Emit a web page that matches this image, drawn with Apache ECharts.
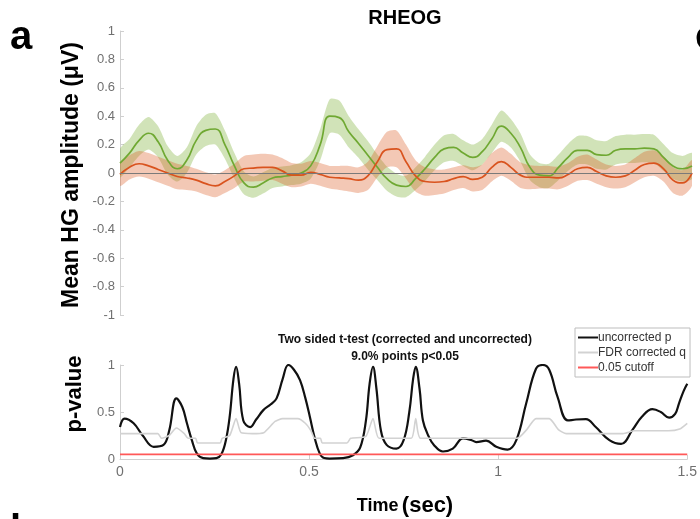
<!DOCTYPE html>
<html>
<head>
<meta charset="utf-8">
<script src="https://cdn.jsdelivr.net/npm/echarts@6.0.0/dist/echarts.min.js"></script>
<style>
  html, body { margin: 0; padding: 0; background: #fff; }
  #chart { width: 700px; height: 519px; }
</style>
</head>
<body>
<div id="chart"></div>
<script>
// ---- top panel: mean HG amplitude, sampled every 25 ms ----
var timeTop = [0, 0.025, 0.05, 0.075, 0.1, 0.125, 0.15, 0.175, 0.2, 0.225,
  0.25, 0.275, 0.3, 0.325, 0.35, 0.375, 0.4, 0.425, 0.45, 0.475,
  0.5, 0.525, 0.55, 0.575, 0.6, 0.625, 0.65, 0.675, 0.7, 0.725,
  0.75, 0.775, 0.8, 0.825, 0.85, 0.875, 0.9, 0.925, 0.95, 0.975,
  1.0, 1.025, 1.05, 1.075, 1.1, 1.125, 1.15, 1.175, 1.2, 1.225,
  1.25, 1.275, 1.3, 1.325, 1.35, 1.375, 1.4, 1.425, 1.45, 1.475, 1.5];

var greenMean = [0.07, 0.14, 0.23, 0.28, 0.22, 0.09, 0.03, 0.09, 0.23, 0.30,
  0.31, 0.20, 0.05, -0.07, -0.10, -0.07, -0.035, -0.025, -0.015, 0.0,
  0.05, 0.20, 0.40, 0.39, 0.29, 0.21, 0.125, 0.04, -0.04, -0.085,
  -0.095, -0.04, 0.03, 0.11, 0.17, 0.18, 0.14, 0.11, 0.15, 0.24,
  0.33, 0.28, 0.18, 0.04, -0.015, -0.02, 0.04, 0.11, 0.16, 0.16,
  0.13, 0.125, 0.16, 0.17, 0.17, 0.175, 0.17, 0.11, 0.05, 0.03, 0.05];

var greenHalf = [0.10, 0.10, 0.11, 0.115, 0.11, 0.10, 0.09, 0.09, 0.10, 0.11,
  0.11, 0.10, 0.09, 0.08, 0.075, 0.075, 0.07, 0.07, 0.07, 0.075,
  0.09, 0.11, 0.12, 0.12, 0.11, 0.10, 0.10, 0.09, 0.085, 0.08,
  0.075, 0.08, 0.085, 0.09, 0.095, 0.095, 0.09, 0.09, 0.09, 0.10,
  0.11, 0.10, 0.10, 0.09, 0.085, 0.085, 0.09, 0.095, 0.10, 0.10,
  0.10, 0.10, 0.10, 0.10, 0.10, 0.10, 0.10, 0.095, 0.09, 0.09, 0.09];

var orangeMean = [-0.01, 0.04, 0.065, 0.05, 0.025, 0.0, -0.025, -0.035, -0.05, -0.075,
  -0.09, -0.06, -0.02, 0.03, 0.035, 0.04, 0.04, 0.015, -0.015, -0.015,
  0.005, -0.01, -0.03, -0.035, -0.04, -0.05, -0.02, 0.08, 0.165, 0.17,
  0.08, -0.02, -0.06, -0.065, -0.06, -0.04, -0.025, -0.045, -0.03, 0.04,
  0.08, 0.04, -0.015, -0.03, -0.03, -0.03, -0.035, -0.01, 0.03, 0.04,
  0.01, -0.02, -0.03, -0.02, 0.02, 0.06, 0.07, 0.03, -0.05, -0.07, 0.0];

var orangeHalf = [0.08, 0.085, 0.09, 0.09, 0.09, 0.09, 0.09, 0.085, 0.08, 0.08,
  0.08, 0.08, 0.085, 0.09, 0.095, 0.095, 0.09, 0.09, 0.085, 0.08,
  0.08, 0.08, 0.08, 0.085, 0.09, 0.09, 0.10, 0.11, 0.125, 0.13,
  0.12, 0.11, 0.10, 0.09, 0.085, 0.08, 0.08, 0.085, 0.09, 0.10,
  0.10, 0.095, 0.09, 0.085, 0.08, 0.08, 0.08, 0.08, 0.085, 0.09,
  0.085, 0.08, 0.08, 0.08, 0.085, 0.09, 0.09, 0.09, 0.09, 0.09, 0.09];

// ---- bottom panel: p values ----
var timeP = [0, 0.012, 0.036, 0.06, 0.089, 0.115, 0.13, 0.149, 0.165, 0.177,
  0.19, 0.203, 0.22, 0.238, 0.255, 0.268, 0.28, 0.29, 0.3, 0.307,
  0.315, 0.326, 0.344, 0.36, 0.379, 0.398, 0.414, 0.43, 0.445, 0.46,
  0.476, 0.49, 0.502, 0.515, 0.528, 0.54, 0.554, 0.59, 0.616, 0.635,
  0.65, 0.66, 0.669, 0.678, 0.69, 0.705, 0.731, 0.75, 0.765, 0.775,
  0.782, 0.792, 0.801, 0.815, 0.83, 0.854, 0.88, 0.907, 0.93, 0.942,
  0.968, 0.995, 1.025, 1.048, 1.074, 1.1, 1.118, 1.135, 1.157, 1.184,
  1.206, 1.232, 1.258, 1.294, 1.325, 1.355, 1.38, 1.408, 1.43, 1.452,
  1.468, 1.478, 1.49, 1.5];
var pUncorrected = [0.34, 0.43, 0.38, 0.25, 0.13, 0.15, 0.30, 0.645, 0.55, 0.38,
  0.20, 0.06, 0.01, 0.005, 0.01, 0.05, 0.20, 0.45, 0.85, 0.98,
  0.80, 0.41, 0.34, 0.42, 0.52, 0.58, 0.645, 0.85, 1.0, 0.95,
  0.84, 0.65, 0.45, 0.22, 0.06, 0.01, 0.005, 0.01, 0.04, 0.12,
  0.40, 0.80, 0.98, 0.75, 0.30, 0.15, 0.11, 0.20, 0.50, 0.85,
  0.98, 0.75, 0.41, 0.25, 0.15, 0.08, 0.11, 0.22, 0.20, 0.18,
  0.195, 0.13, 0.10, 0.20, 0.59, 0.96, 1.0, 0.95, 0.66, 0.41,
  0.42, 0.425, 0.34, 0.20, 0.16, 0.31, 0.45, 0.53, 0.50, 0.44,
  0.48, 0.59, 0.72, 0.80];

var timeQ = [0, 0.1, 0.11, 0.13, 0.149, 0.17, 0.18, 0.2, 0.205, 0.265,
  0.27, 0.29, 0.307, 0.32, 0.35, 0.38, 0.41, 0.43, 0.47, 0.49,
  0.505, 0.515, 0.53, 0.535, 0.6, 0.61, 0.65, 0.669, 0.685, 0.77,
  0.782, 0.795, 1.05, 1.075, 1.1, 1.135, 1.16, 1.18, 1.33, 1.36,
  1.45, 1.48, 1.5];
var qFdr = [0.27, 0.27, 0.22, 0.25, 0.33, 0.27, 0.22, 0.22, 0.17, 0.17,
  0.22, 0.25, 0.43, 0.28, 0.27, 0.28, 0.40, 0.43, 0.43, 0.38,
  0.30, 0.22, 0.22, 0.17, 0.17, 0.22, 0.24, 0.43, 0.22, 0.22,
  0.43, 0.22, 0.22, 0.31, 0.43, 0.43, 0.31, 0.27, 0.27, 0.30,
  0.30, 0.32, 0.38];

var timeCut = [0, 1.5];
var cutoff = [0.05, 0.05];

var topTicks = { min: -1, max: 1, interval: 0.2 };
var pTicks = { min: 0, max: 1, interval: 0.5 };
var timeTicks = { min: 0, max: 1.5, interval: 0.5 };

function pairs(ts, vs) {
  var out = [];
  for (var i = 0; i < ts.length; i++) out.push([ts[i], vs[i]]);
  return out;
}

// shaded band (mean +/- half width) drawn as one polygon through the axis scales
function bandSeries(mean, half, fill) {
  return {
    type: 'custom', xAxisIndex: 0, yAxisIndex: 0, clip: true, silent: true,
    data: pairs(timeTop, mean),
    renderItem: function (params, api) {
      if (params.dataIndex !== 0) return null;
      var pts = [];
      for (var i = 0; i < timeTop.length; i++) pts.push(api.coord([timeTop[i], mean[i] + half[i]]));
      for (var j = timeTop.length - 1; j >= 0; j--) pts.push(api.coord([timeTop[j], mean[j] - half[j]]));
      return { type: 'polygon', shape: { points: pts, smooth: 0.25 }, style: { fill: fill } };
    }
  };
}

var font = '"Liberation Sans", Arial, Helvetica, sans-serif';
var axisGray = '#cfcfcf';
var labelGray = '#707070';

var myChart = echarts.init(document.getElementById('chart'));

var option = {
  animation: false,
  backgroundColor: '#fff',
  textStyle: { fontFamily: font },
  grid: [
    { left: 120, top: 31, width: 572, height: 284 },
    { left: 120, top: 365, width: 572, height: 94 }
  ],
  legend: {
    data: ['uncorrected p', 'FDR corrected q', '0.05 cutoff'],
    orient: 'vertical',
    left: 575,
    top: 328,
    icon: 'rect',
    itemWidth: 20,
    itemHeight: 2,
    itemGap: 2,
    padding: [3, 4, 3, 3],
    backgroundColor: '#fff',
    borderColor: '#bdbdbd',
    borderWidth: 1,
    borderRadius: 0,
    textStyle: { color: '#333', fontSize: 12, lineHeight: 13, fontFamily: font, padding: [0, 0, 0, -5] }
  },
  xAxis: [{
    gridIndex: 0, type: 'value', min: timeTicks.min, max: timeTicks.max,
    axisLine: { lineStyle: { color: axisGray } },
    axisTick: { show: false }, axisLabel: { show: false }, splitLine: { show: false }
  }, {
    gridIndex: 1, type: 'value', min: timeTicks.min, max: timeTicks.max, interval: timeTicks.interval,
    axisLine: { onZero: false, lineStyle: { color: axisGray } },
    axisTick: { inside: true, length: 4, lineStyle: { color: axisGray } },
    axisLabel: { color: labelGray, fontSize: 14, margin: 6, fontFamily: font },
    splitLine: { show: false }
  }],
  yAxis: [{
    gridIndex: 0, type: 'value', min: topTicks.min, max: topTicks.max, interval: topTicks.interval,
    axisLine: { show: true, lineStyle: { color: axisGray } },
    axisTick: { show: true, inside: true, length: 4, lineStyle: { color: axisGray } },
    axisLabel: { color: labelGray, fontSize: 13, margin: 5, fontFamily: font },
    splitLine: { show: false }
  }, {
    gridIndex: 1, type: 'value', min: pTicks.min, max: pTicks.max, interval: pTicks.interval,
    axisLine: { show: true, lineStyle: { color: axisGray } },
    axisTick: { show: true, inside: true, length: 4, lineStyle: { color: axisGray } },
    axisLabel: { color: labelGray, fontSize: 13, margin: 5, fontFamily: font },
    splitLine: { show: false }
  }],
  series: [
    bandSeries(greenMean, greenHalf, 'rgba(119,172,48,0.34)'),
    bandSeries(orangeMean, orangeHalf, 'rgba(217,83,25,0.32)'),
    // means
    { name: 'green', type: 'line', xAxisIndex: 0, yAxisIndex: 0, smooth: 0.5, symbol: 'none',
      lineStyle: { color: '#6fa832', width: 1.7 }, data: pairs(timeTop, greenMean),
      markLine: { silent: true, symbol: 'none', label: { show: false },
        lineStyle: { color: '#7a7a7a', width: 1, type: 'solid' }, data: [{ yAxis: 0 }] } },
    { name: 'orange', type: 'line', xAxisIndex: 0, yAxisIndex: 0, smooth: 0.5, symbol: 'none',
      lineStyle: { color: '#d9531e', width: 1.7 }, data: pairs(timeTop, orangeMean) },
    // p values
    { name: 'uncorrected p', type: 'line', xAxisIndex: 1, yAxisIndex: 1, smooth: 0.4, symbol: 'none',
      color: '#111', lineStyle: { color: '#111', width: 2.2 }, data: pairs(timeP, pUncorrected) },
    { name: 'FDR corrected q', type: 'line', xAxisIndex: 1, yAxisIndex: 1, smooth: 0.2, symbol: 'none',
      color: '#d2d2d2', lineStyle: { color: '#d2d2d2', width: 1.6 }, data: pairs(timeQ, qFdr) },
    { name: '0.05 cutoff', type: 'line', xAxisIndex: 1, yAxisIndex: 1, symbol: 'none',
      color: '#ff5858', lineStyle: { color: '#ff5858', width: 1.8 }, data: pairs(timeCut, cutoff) }
  ],
  graphic: [
    { type: 'text', x: 10, y: 38, style: { text: 'a', font: 'bold 40px ' + font, fill: '#000', textVerticalAlign: 'middle' } },
    { type: 'text', x: 695, y: 38, style: { text: 'c', font: 'bold 40px ' + font, fill: '#000', textVerticalAlign: 'middle' } },
    { type: 'text', x: 10, y: 512, style: { text: 'b', font: 'bold 40px ' + font, fill: '#000', textVerticalAlign: 'top' } },
    { type: 'text', x: 405, y: 18, style: { text: 'RHEOG', font: 'bold 20px ' + font, fill: '#000',
      textAlign: 'center', textVerticalAlign: 'middle' } },
    { type: 'text', x: 405, y: 340, style: { text: 'Two sided t-test (corrected and uncorrected)', font: 'bold 12px ' + font,
      fill: '#111', textAlign: 'center', textVerticalAlign: 'middle' } },
    { type: 'text', x: 405, y: 357, style: { text: '9.0% points p<0.05', font: 'bold 12px ' + font,
      fill: '#111', textAlign: 'center', textVerticalAlign: 'middle' } },
    { type: 'text', x: 72, y: 175, rotation: Math.PI / 2, style: { text: 'Mean HG amplitude (μV)', font: 'bold 23px ' + font,
      fill: '#000', textAlign: 'center', textVerticalAlign: 'middle' } },
    { type: 'text', x: 75, y: 394, rotation: Math.PI / 2, style: { text: 'p-value', font: 'bold 22px ' + font,
      fill: '#000', textAlign: 'center', textVerticalAlign: 'middle' } },
    { type: 'text', x: 405, y: 506, style: { text: '{t|Time} {s|(sec)}', textAlign: 'center', textVerticalAlign: 'middle',
      rich: { t: { font: 'bold 18px ' + font, fill: '#000' }, s: { font: 'bold 22px ' + font, fill: '#000' } } } }
  ]
};

myChart.setOption(option);
</script>
</body>
</html>
